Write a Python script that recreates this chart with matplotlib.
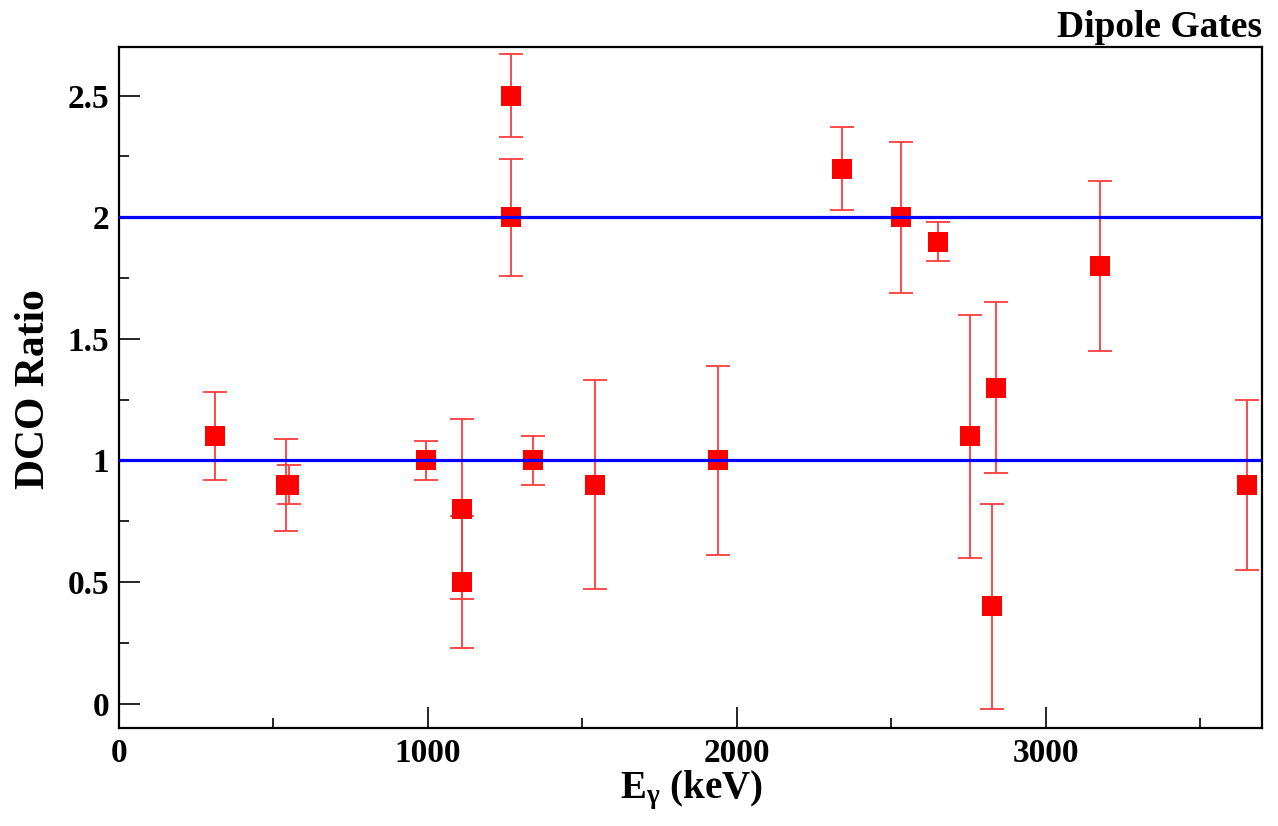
#!/usr/bin/env python3
import matplotlib
matplotlib.use("Agg")
import matplotlib.pyplot as plt
from matplotlib.ticker import MultipleLocator

# gamma energies (keV), DCO ratios and their uncertainties
energy = [310, 540, 550, 995, 1110, 1110, 1270, 1270, 1340, 1540, 1940,
          2340, 2530, 2650, 2755, 2825, 2840, 3175, 3650]
dco = [1.10, 0.90, 0.90, 1.00, 0.80, 0.50, 2.50, 2.00, 1.00, 0.90, 1.00,
       2.20, 2.00, 1.90, 1.10, 0.40, 1.30, 1.80, 0.90]
dco_err = [0.18, 0.19, 0.08, 0.08, 0.37, 0.27, 0.17, 0.24, 0.10, 0.43, 0.39,
           0.17, 0.31, 0.08, 0.50, 0.42, 0.35, 0.35, 0.35]
ref_lines = [1.0, 2.0]


def main():
    plt.rcParams.update({
        "font.family": "Liberation Serif",
        "font.weight": "bold",
        "mathtext.fontset": "custom",
        "mathtext.rm": "Liberation Serif:bold",
        "mathtext.it": "Liberation Serif:bold",
    })

    fig = plt.figure(figsize=(12.78, 8.26), dpi=100)
    ax = fig.add_axes([0.0931, 0.1186, 0.8944, 0.8245])

    # error bars first, squares on top, reference lines over everything
    ax.errorbar(energy, dco, yerr=dco_err, fmt="none", ecolor="#ff3c3c",
                elinewidth=1.3, capsize=8.5, capthick=1.3, zorder=2)
    ax.plot(energy, dco, "s", color="red", markersize=14.5,
            markeredgewidth=0, zorder=3)
    for y in ref_lines:
        ax.axhline(y, color="#0000ff", linewidth=2.3, zorder=4)

    ax.set_xlim(0, 3700)
    ax.set_ylim(-0.1, 2.7)
    ax.xaxis.set_major_locator(MultipleLocator(1000))
    ax.xaxis.set_minor_locator(MultipleLocator(500))
    ax.yaxis.set_major_locator(MultipleLocator(0.5))
    ax.yaxis.set_minor_locator(MultipleLocator(0.25))
    ax.yaxis.set_major_formatter(plt.FuncFormatter(lambda v, p: f"{v:g}"))

    ax.tick_params(which="both", direction="in", top=False, right=False,
                   width=1.2)
    ax.tick_params(which="major", length=15)
    ax.tick_params(which="minor", length=7.5)
    ax.tick_params(axis="x", labelsize=24, pad=7)
    ax.tick_params(axis="y", labelsize=24, pad=7)
    for sp in ax.spines.values():
        sp.set_linewidth(1.6)

    ax.set_xlabel(r"E$_{\mathrm{\gamma}}$ (keV)", fontsize=28,
                  fontweight="bold")
    ax.xaxis.set_label_coords(0.501, -0.06)
    ax.set_ylabel("DCO Ratio", fontsize=30, fontweight="bold")
    ax.yaxis.set_label_coords(-0.058, 0.498)
    ax.set_title("Dipole Gates", loc="right", fontsize=27,
                 fontweight="bold", pad=7)

    fig.savefig("out.png", dpi=100)


if __name__ == "__main__":
    main()
